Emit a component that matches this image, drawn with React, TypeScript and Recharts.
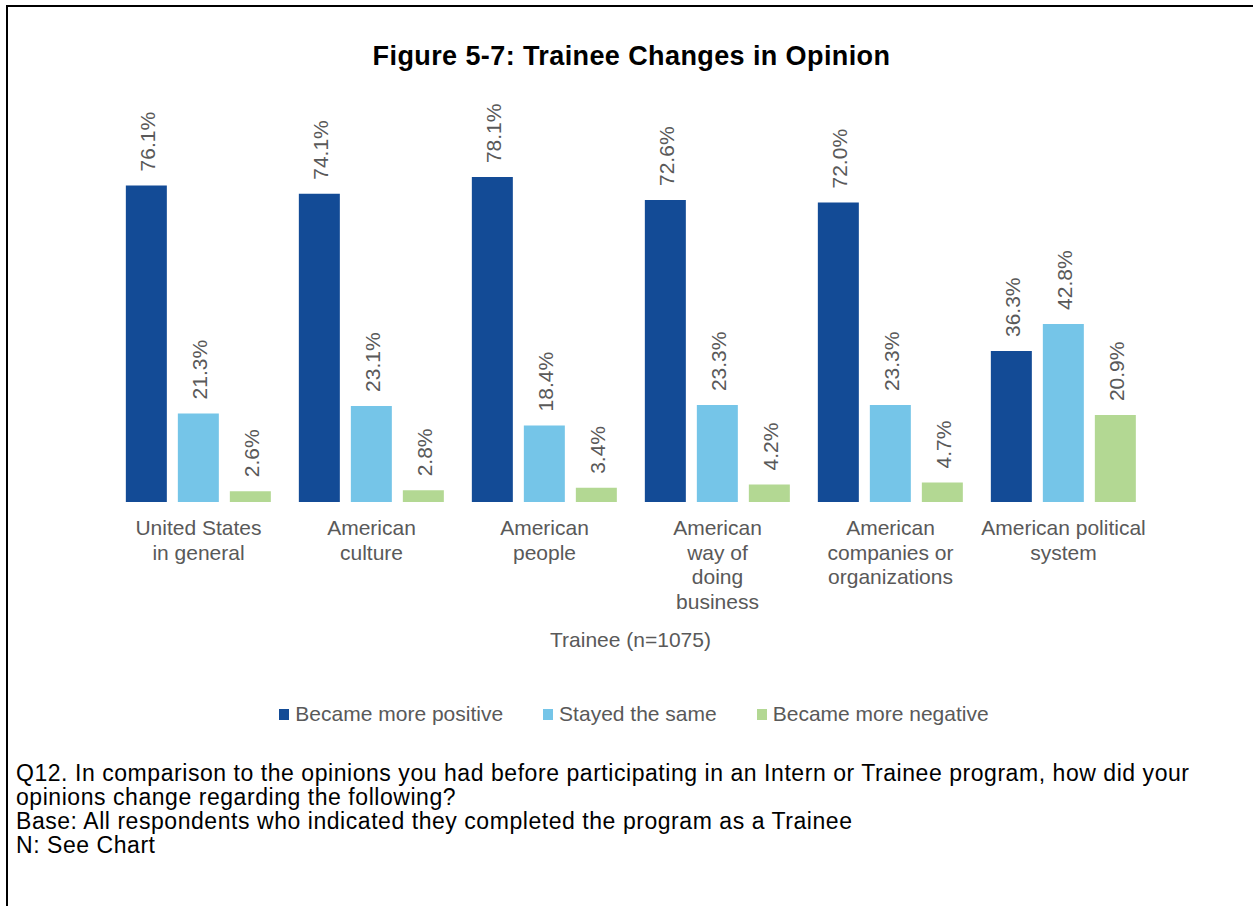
import React from "react";
import { BarChart, Bar, XAxis, YAxis, LabelList } from "recharts";

const categories = [
  "United States\nin general",
  "American\nculture",
  "American\npeople",
  "American\nway of\ndoing\nbusiness",
  "American\ncompanies or\norganizations",
  "American political\nsystem",
];
const positive = [76.1, 74.1, 78.1, 72.6, 72.0, 36.3];
const same = [21.3, 23.1, 18.4, 23.3, 23.3, 42.8];
const negative = [2.6, 2.8, 3.4, 4.2, 4.7, 20.9];

const seriesNames = ["Became more positive", "Stayed the same", "Became more negative"];
const colors = ["#134B96", "#75C5E8", "#B3D893"];

const FONT = '"Liberation Sans", Arial, sans-serif';
const GRAY = "#595959";

const data = categories.map((name, i) => ({
  name,
  positive: positive[i],
  same: same[i],
  negative: negative[i],
}));

function CategoryTick(props: any) {
  const { x, y, payload } = props;
  const lines = String(payload.value).split("\n");
  return (
    <text x={x} y={y} textAnchor="middle" fill={GRAY} fontSize={21} fontFamily={FONT}>
      {lines.map((l, i) => (
        <tspan key={i} x={x} dy={i === 0 ? 25 : 24.5}>
          {l}
        </tspan>
      ))}
    </text>
  );
}

function ValueLabel(props: any) {
  const { x, y, width, value } = props;
  const cx = x + width / 2 + 1;
  const ty = y - 14;
  return (
    <text
      x={cx}
      y={ty}
      transform={`rotate(-90 ${cx} ${ty})`}
      textAnchor="start"
      dominantBaseline="central"
      fill={GRAY}
      fontSize={21}
      fontFamily={FONT}
    >
      {`${Number(value).toFixed(1)}%`}
    </text>
  );
}

function LegendRow() {
  return (
    <div
      style={{
        position: "absolute",
        top: 702,
        left: 0,
        width: 1253,
        display: "flex",
        justifyContent: "center",
        fontFamily: FONT,
        fontSize: 21,
        color: GRAY,
        paddingLeft: 15,
        boxSizing: "border-box",
      }}
    >
      {seriesNames.map((n, i) => (
        <div key={n} style={{ display: "flex", alignItems: "center", marginRight: i < 2 ? 40 : 0 }}>
          <span style={{ width: 10, height: 11, background: colors[i], marginRight: 6, display: "inline-block" }} />
          <span>{n}</span>
        </div>
      ))}
    </div>
  );
}

export default function App() {
  return (
    <div style={{ position: "absolute", left: 0, top: 0, width: 1253, height: 906, background: "#fff", overflow: "hidden" }}>
      <div
        style={{
          position: "absolute",
          left: 6,
          top: 5,
          width: 1245,
          height: 910,
          borderTop: "2px solid #000",
          borderLeft: "2px solid #000",
        }}
      />
      <div
        style={{
          position: "absolute",
          top: 41,
          left: 0,
          width: 1263,
          textAlign: "center",
          fontFamily: FONT,
          fontWeight: "bold",
          fontSize: 27,
          letterSpacing: 0.4,
          color: "#000",
        }}
      >
        Figure 5-7: Trainee Changes in Opinion
      </div>
      <div style={{ position: "absolute", left: 0, top: 0 }}>
        <BarChart
          width={1253}
          height={700}
          data={data}
          margin={{ top: 86, right: 103, bottom: 168, left: 112 }}
          barCategoryGap="8%"
          barGap={11}
        >
          <YAxis hide domain={[0, 100]} />
          <XAxis
            dataKey="name"
            axisLine={false}
            tickLine={false}
            interval={0}
            tick={<CategoryTick />}
          />
          <Bar dataKey="positive" fill={colors[0]} isAnimationActive={false}>
            <LabelList dataKey="positive" content={<ValueLabel />} />
          </Bar>
          <Bar dataKey="same" fill={colors[1]} isAnimationActive={false}>
            <LabelList dataKey="same" content={<ValueLabel />} />
          </Bar>
          <Bar dataKey="negative" fill={colors[2]} isAnimationActive={false}>
            <LabelList dataKey="negative" content={<ValueLabel />} />
          </Bar>
        </BarChart>
      </div>
      <div
        style={{
          position: "absolute",
          top: 628,
          left: 0,
          width: 1261,
          textAlign: "center",
          fontFamily: FONT,
          fontSize: 21,
          color: GRAY,
        }}
      >
        Trainee (n=1075)
      </div>
      <LegendRow />
      <div
        style={{
          position: "absolute",
          left: 16,
          top: 761,
          fontFamily: FONT,
          fontSize: 23,
          letterSpacing: 0.55,
          lineHeight: "24px",
          color: "#000",
          whiteSpace: "nowrap",
        }}
      >
        Q12. In comparison to the opinions you had before participating in an Intern or Trainee program, how did your
        <br />
        opinions change regarding the following?
        <br />
        Base: All respondents who indicated they completed the program as a Trainee
        <br />
        N: See Chart
      </div>
    </div>
  );
}
